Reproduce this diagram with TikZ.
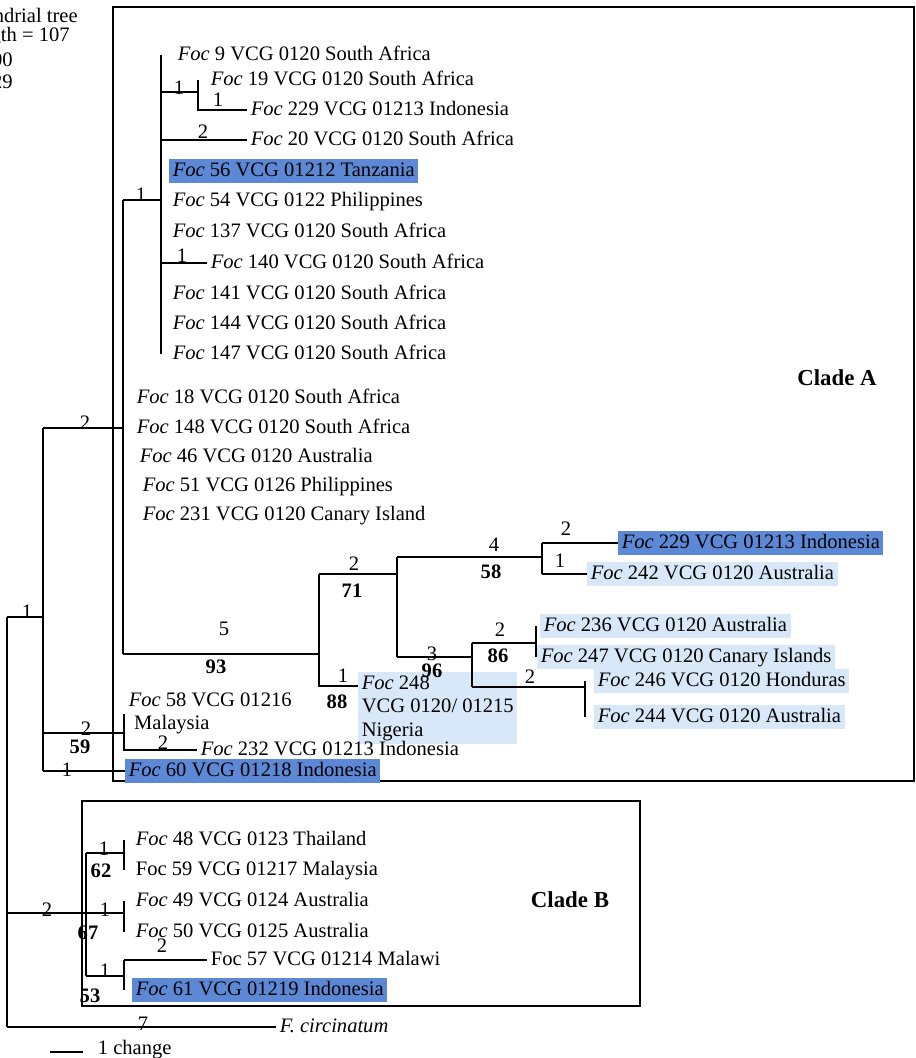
\documentclass[tikz,border=0pt]{standalone}
\usepackage{fontspec}
\setmainfont{Liberation Serif}
\usepackage{xcolor}
\usetikzlibrary{calc,positioning}

\definecolor{hldark}{RGB}{92,136,214}
\definecolor{hllight}{RGB}{216,232,248}
\newcommand{\foc}{\textit{Foc}}

\begin{document}
\begin{tikzpicture}[x=0.02cm,y=-0.02cm,
  font=\fontsize{11.7}{13.3}\selectfont,
  leaf/.style={anchor=west,inner xsep=2pt,inner ysep=1pt,text height=0.9em,text depth=0.24em},
  darkhl/.style={leaf,fill=hldark},
  lighthl/.style={leaf,fill=hllight},
  multi/.style={anchor=north west,align=left,inner xsep=2pt,inner ysep=2pt},
  blen/.style={anchor=base,inner sep=0pt},
  boot/.style={blen,font=\fontsize{11.7}{13.3}\selectfont\bfseries},
  clade/.style={font=\fontsize{13}{15}\selectfont\bfseries},
  branch/.style={line width=0.8pt},
  frame/.style={line width=1pt}]

\useasboundingbox (0,0) rectangle (916,1058);

% Header, cut at the left edge
\node[anchor=east,inner sep=0pt] (hd1) at (78,15) {ndrial tree};
\node[anchor=east,inner sep=0pt] (hd2) at (70,37) {gth = 107};
\node[anchor=east,inner sep=0pt] (hd3) at (13,60) {00};
\node[anchor=east,inner sep=0pt] (hd4) at (13,82) {29};

% Frames
\draw[frame] (113,7) rectangle (914,781);
\draw[frame] (82,801) rectangle (640,1006);
\node[clade] (cladeA) at (837,378) {Clade A};
\node[clade] (cladeB) at (570,900) {Clade B};

% Leaves, upper group
\node[leaf] (L9) at (174,55) {\foc\ 9 VCG 0120 South Africa};
\node[leaf] (L19) at (207,80) {\foc\ 19 VCG 0120 South Africa};
\node[leaf] (L229a) at (247,110) {\foc\ 229 VCG 01213 Indonesia};
\node[leaf] (L20) at (247,140) {\foc\ 20 VCG 0120 South Africa};
\node[darkhl] (L56) at (169,171) {\foc\ 56 VCG 01212 Tanzania};
\node[leaf] (L54) at (169,201) {\foc\ 54 VCG 0122 Philippines};
\node[leaf] (L137) at (169,232) {\foc\ 137 VCG 0120 South Africa};
\node[leaf] (L140) at (207,263) {\foc\ 140 VCG 0120 South Africa};
\node[leaf] (L141) at (169,294) {\foc\ 141 VCG 0120 South Africa};
\node[leaf] (L144) at (169,324) {\foc\ 144 VCG 0120 South Africa};
\node[leaf] (L147) at (169,354) {\foc\ 147 VCG 0120 South Africa};
\node[leaf] (L18) at (133,398) {\foc\ 18 VCG 0120 South Africa};
\node[leaf] (L148) at (133,428) {\foc\ 148 VCG 0120 South Africa};
\node[leaf] (L46) at (136,457) {\foc\ 46 VCG 0120 Australia};
\node[leaf] (L51) at (139,486) {\foc\ 51 VCG 0126 Philippines};
\node[leaf] (L231) at (139,515) {\foc\ 231 VCG 0120 Canary Island};

% Leaves, middle group
\node[darkhl] (L229b) at (618,543) {\foc\ 229 VCG 01213 Indonesia};
\node[lighthl] (L242) at (587,574) {\foc\ 242 VCG 0120 Australia};
\node[lighthl] (L236) at (540,626) {\foc\ 236 VCG 0120 Australia};
\node[lighthl] (L247) at (537,657) {\foc\ 247 VCG 0120 Canary Islands};
\node[lighthl] (L246) at (594,681) {\foc\ 246 VCG 0120 Honduras};
\node[lighthl] (L244) at (594,717) {\foc\ 244 VCG 0120 Australia};
\node[multi,fill=hllight] (L248) at (358,672) {\foc\ 248\\VCG 0120/ 01215\\Nigeria};
\node[multi] (L58) at (125,689) {\foc\ 58 VCG 01216\\\hspace{3pt}Malaysia};
\node[leaf] (L232) at (197,750) {\foc\ 232 VCG 01213 Indonesia};
\node[darkhl] (L60) at (125,771) {\foc\ 60 VCG 01218 Indonesia};

% Leaves, clade B and outgroup
\node[leaf] (L48) at (132,840) {\foc\ 48 VCG 0123 Thailand};
\node[leaf] (L59) at (132,870) {Foc 59 VCG 01217 Malaysia};
\node[leaf] (L49) at (132,901) {\foc\ 49 VCG 0124 Australia};
\node[leaf] (L50) at (132,932) {\foc\ 50 VCG 0125 Australia};
\node[leaf] (L57) at (207,960) {Foc 57 VCG 01214 Malawi};
\node[darkhl] (L61) at (132,990) {\foc\ 61 VCG 01219 Indonesia};
\node[leaf] (Fc) at (276,1027) {\textit{F. circinatum}};

% Inner nodes
\coordinate (root) at (7,617);
\coordinate (nB) at (43,617);
\coordinate (nA) at (123,428);
\coordinate (n1) at (161,200);
\coordinate (n19) at (198,92);
\coordinate (n93) at (319,654);
\coordinate (n71) at (397,574);
\coordinate (n58) at (542,557);
\coordinate (n96) at (472,657);
\coordinate (n86) at (536,643);
\coordinate (n246) at (585,687);
\coordinate (n59) at (124,733);
\coordinate (nCB) at (86,913);
\coordinate (n62) at (124,853);
\coordinate (n67) at (124,913);
\coordinate (n53) at (124,976);
\coordinate (t248) at ([yshift=-8pt]L248.north west);

% Root and outgroup
\draw[branch] (root |- nB) -- (root |- Fc.west);
\draw[branch] (root |- nB) -- (nB);
\draw[branch] (root |- nCB) -- (nCB);
\draw[branch] (root |- Fc.west) -- (Fc.west);

% Clade A
\draw[branch] (nB |- nA) -- (nB |- L60.west);
\draw[branch] (nB |- nA) -- (nA);
\draw[branch] (nB |- n59) -- (n59);
\draw[branch] (nB |- L60.west) -- (L60.west);
\draw[branch] (n59 |- L58.west) -- (n59 |- L232.west) -- (L232.west);

\draw[branch] (nA |- n1) -- (nA |- n93);
\draw[branch] (nA |- n1) -- (n1);
\draw[branch] (nA |- n93) -- (n93);

\draw[branch] (n1 |- L9.west) -- (n1 |- L147.west);
\draw[branch] (n1 |- n19) -- (n19);
\draw[branch] (n19 |- L19.west) -- (n19 |- L229a.west) -- (L229a.west);
\draw[branch] (n1 |- L20.west) -- (L20.west);
\draw[branch] (n1 |- L140.west) -- (L140.west);

\draw[branch] (n93 |- n71) -- (n93 |- t248) -- (t248);
\draw[branch] (n93 |- n71) -- (n71);
\draw[branch] (n71 |- n58) -- (n71 |- n96);
\draw[branch] (n71 |- n58) -- (n58);
\draw[branch] (n71 |- n96) -- (n96);
\draw[branch] (n58 |- L229b.west) -- (n58 |- L242.west);
\draw[branch] (n58 |- L229b.west) -- (L229b.west);
\draw[branch] (n58 |- L242.west) -- (L242.west);
\draw[branch] (n96 |- n86) -- (n96 |- n246);
\draw[branch] (n96 |- n86) -- (n86);
\draw[branch] (n96 |- n246) -- (n246);
\draw[branch] (n86 |- L236.west) -- (n86 |- L247.west);
\draw[branch] (n246 |- L246.west) -- (n246 |- L244.west);

% Clade B
\draw[branch] (nCB |- n62) -- (nCB |- n53);
\draw[branch] (nCB |- n62) -- (n62);
\draw[branch] (nCB |- n67) -- (n67);
\draw[branch] (nCB |- n53) -- (n53);
\draw[branch] (n62 |- L48.west) -- (n62 |- L59.west);
\draw[branch] (n67 |- L49.west) -- (n67 |- L50.west);
\draw[branch] (n53 |- L57.west) -- (n53 |- L61.west);
\draw[branch] (n53 |- L57.west) -- (L57.west);

% Branch lengths
\node[blen] (bl1) at (179,94) {1};
\node[blen] (bl2) at (218,106) {1};
\node[blen] (bl3) at (203,138) {2};
\node[blen] (bl4) at (141,201) {1};
\node[blen] (bl5) at (182,262) {1};
\node[blen] (bl6) at (85,429) {2};
\node[blen] (bl7) at (27,618) {1};
\node[blen] (bl8) at (224,635) {5};
\node[blen] (bl9) at (354,570) {2};
\node[blen] (bl10) at (343,682) {1};
\node[blen] (bl11) at (494,551) {4};
\node[blen] (bl12) at (566,535) {2};
\node[blen] (bl13) at (560,567) {1};
\node[blen] (bl14) at (432,660) {3};
\node[blen] (bl15) at (500,636) {2};
\node[blen] (bl16) at (530,683) {2};
\node[blen] (bl17) at (86,735) {2};
\node[blen] (bl18) at (163,749) {2};
\node[blen] (bl19) at (67,776) {1};
\node[blen] (bl20) at (104,855) {1};
\node[blen] (bl21) at (47,916) {2};
\node[blen] (bl22) at (105,916) {1};
\node[blen] (bl23) at (162,952) {2};
\node[blen] (bl24) at (105,977) {1};
\node[blen] (bl25) at (143,1030) {7};

% Bootstrap values
\node[boot] (bs93) at (216,673) {93};
\node[boot] (bs71) at (352,597) {71};
\node[boot] (bs88) at (337,708) {88};
\node[boot] (bs58) at (491,578) {58};
\node[boot] (bs96) at (432,677) {96};
\node[boot] (bs86) at (498,662) {86};
\node[boot] (bs59) at (80,753) {59};
\node[boot] (bs62) at (101,877) {62};
\node[boot] (bs67) at (88,939) {67};
\node[boot] (bs53) at (90,1002) {53};

% Scale bar
\node[leaf] (scale) at (94,1049) {1 change};
\draw[branch] (50,1052) -- (83,1052);

\end{tikzpicture}
\end{document}
